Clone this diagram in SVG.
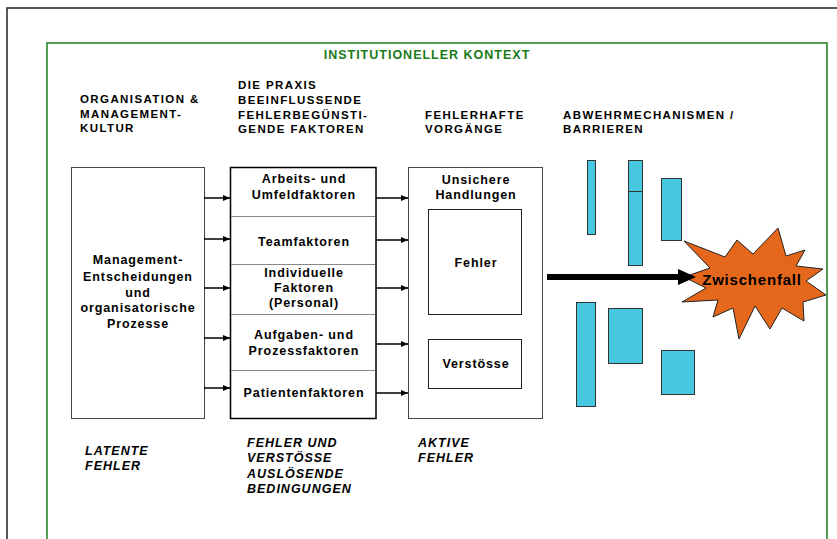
<svg xmlns="http://www.w3.org/2000/svg" width="837" height="539" viewBox="0 0 837 539">
<style>
text{font-family:"Liberation Sans",Arial,sans-serif;font-weight:bold;fill:#000;}
.hd{font-size:11.5px;letter-spacing:1.4px;}
.tt{font-size:12.5px;letter-spacing:0.9px;}
.c{text-anchor:middle;}
.it{font-size:12.5px;font-style:italic;letter-spacing:1px;}
.box{fill:#fff;stroke:#444;stroke-width:1;}
.inner{fill:#fff;stroke:#222;stroke-width:1;}
.bar{fill:#47C7E0;stroke:#333;stroke-width:1;}
.div{stroke:#888;stroke-width:1;fill:none;}
.arr{stroke:#000;stroke-width:1.5;fill:none;marker-end:url(#ah);}
</style>
<defs>
<marker id="ah" markerUnits="userSpaceOnUse" markerWidth="8" markerHeight="8" refX="7" refY="3" orient="auto">
<path d="M0,0 L7,3 L0,6 Z" fill="#000"/>
</marker>
</defs>
<rect width="837" height="539" fill="#fff"/>
<g id="frames">
<path d="M7,539 V8 H837" fill="none" stroke="#222" stroke-width="1.5"/>
<path d="M47,540 V43 H827 V540" fill="none" stroke="#1f7f1f" stroke-width="1.5"/>
<text x="427" y="59" class="c" style="font-size:12.5px;letter-spacing:1px;fill:#1a7a1a">INSTITUTIONELLER KONTEXT</text>
</g>
<g id="headers">
<text class="hd" x="80" y="103">ORGANISATION &amp;</text>
<text class="hd" x="80" y="118">MANAGEMENT-</text>
<text class="hd" x="80" y="132">KULTUR</text>
<text class="hd" x="238" y="89">DIE PRAXIS</text>
<text class="hd" x="238" y="104">BEEINFLUSSENDE</text>
<text class="hd" x="238" y="119">FEHLERBEGÜNSTI-</text>
<text class="hd" x="238" y="133">GENDE FAKTOREN</text>
<text class="hd" x="425" y="119">FEHLERHAFTE</text>
<text class="hd" x="425" y="133">VORGÄNGE</text>
<text class="hd" x="563" y="119">ABWEHRMECHANISMEN /</text>
<text class="hd" x="563" y="133">BARRIEREN</text>
</g>
<g id="management">
<rect class="box" x="71.5" y="167.5" width="133" height="251"/>
<text class="tt c" x="138" y="264">Management-</text>
<text class="tt c" x="138" y="281">Entscheidungen</text>
<text class="tt c" x="138" y="297">und</text>
<text class="tt c" x="138" y="312">organisatorische</text>
<text class="tt c" x="138" y="328">Prozesse</text>
</g>
<g id="faktoren">
<rect x="230.5" y="167.5" width="145.5" height="251" fill="#fff" stroke="#000" stroke-width="1.5"/>
<path class="div" d="M231,216.5 H375 M231,264.5 H375 M231,314.5 H375 M231,370.5 H375"/>
<text class="tt c" x="304" y="183">Arbeits- und</text>
<text class="tt c" x="304" y="199">Umfeldfaktoren</text>
<text class="tt c" x="304" y="246">Teamfaktoren</text>
<text class="tt c" x="304" y="277">Individuelle</text>
<text class="tt c" x="304" y="292">Faktoren</text>
<text class="tt c" x="304" y="307">(Personal)</text>
<text class="tt c" x="304" y="339">Aufgaben- und</text>
<text class="tt c" x="304" y="355">Prozessfaktoren</text>
<text class="tt c" x="304" y="397">Patientenfaktoren</text>
</g>
<g id="handlungen">
<rect class="box" x="408.5" y="167.5" width="134" height="251" stroke="#555"/>
<text class="tt c" x="476" y="184">Unsichere</text>
<text class="tt c" x="476" y="199">Handlungen</text>
<rect class="inner" x="428.5" y="209.5" width="93" height="105"/>
<text class="tt c" x="476" y="267">Fehler</text>
<rect class="inner" x="428.5" y="339.5" width="93" height="49"/>
<text class="tt c" x="476" y="368">Verstösse</text>
</g>
<g id="barrieren">
<rect class="bar" x="587.5" y="160.5" width="8" height="74"/>
<rect class="bar" x="628.5" y="160.5" width="14" height="105"/>
<path d="M628.5,191.5 H642.5" stroke="#333" stroke-width="1"/>
<rect class="bar" x="661.5" y="178.5" width="20" height="62"/>
<rect class="bar" x="576.5" y="302.5" width="19" height="104"/>
<rect class="bar" x="608.5" y="308.5" width="34" height="55"/>
<rect class="bar" x="661.5" y="350.5" width="33" height="44"/>
</g>
<g id="zwischenfall">
<polygon points="778,228 786,256 805,250 796,266 823,269 806,281 826,295 803,302 804,321 782,308 770,329 755,306 739,339 733,308 713,317 718,300 682,302 706,288 684,277 710,268 684,241 725,257 737,240 753,254" fill="#E5671B" stroke="#222" stroke-width="1"/>
<text x="752" y="285" class="c" style="font-size:15px;letter-spacing:0.8px">Zwischenfall</text>
</g>
<g id="connectors">
<line class="arr" x1="204" y1="198" x2="230" y2="198"/>
<line class="arr" x1="204" y1="239" x2="230" y2="239"/>
<line class="arr" x1="204" y1="288" x2="230" y2="288"/>
<line class="arr" x1="204" y1="338" x2="230" y2="338"/>
<line class="arr" x1="204" y1="388" x2="230" y2="388"/>
<line class="arr" x1="376" y1="198" x2="408" y2="198"/>
<line class="arr" x1="376" y1="240" x2="408" y2="240"/>
<line class="arr" x1="376" y1="288" x2="408" y2="288"/>
<line class="arr" x1="376" y1="344" x2="408" y2="344"/>
<line class="arr" x1="376" y1="393" x2="408" y2="393"/>
<line x1="547" y1="277" x2="680" y2="277" stroke="#000" stroke-width="6"/>
<polygon points="678,269 696,277 678,285" fill="#000"/>
</g>
<g id="labels">
<text class="it" x="85" y="455">LATENTE</text>
<text class="it" x="85" y="470">FEHLER</text>
<text class="it" x="247" y="447">FEHLER UND</text>
<text class="it" x="247" y="462">VERSTÖSSE</text>
<text class="it" x="247" y="478">AUSLÖSENDE</text>
<text class="it" x="247" y="493">BEDINGUNGEN</text>
<text class="it" x="418" y="447">AKTIVE</text>
<text class="it" x="418" y="462">FEHLER</text>
</g>
</svg>
